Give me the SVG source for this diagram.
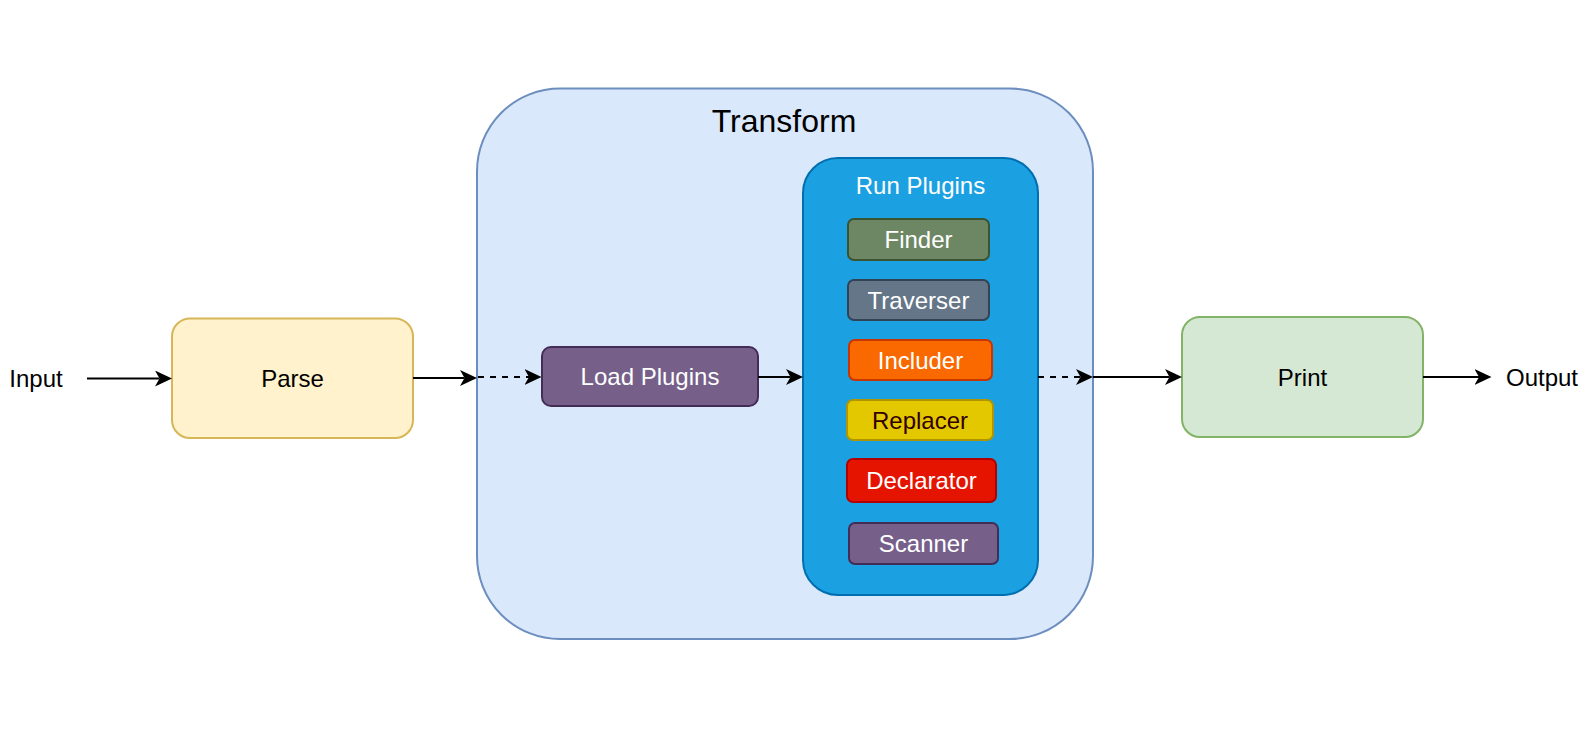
<svg xmlns="http://www.w3.org/2000/svg" width="1588" height="732" viewBox="0 0 1588 732">
<style>
  text { font-family: "Liberation Sans", Arial, Helvetica, sans-serif; font-size: 24px; text-anchor: middle; }
  .w { fill: #ffffff; }
  .k { fill: #000000; }
  .box { stroke-width: 2; }
  .edge { fill: none; stroke: #000000; stroke-width: 2; }
  .dash { stroke-dasharray: 6 6; }
</style>
<defs>
  <marker id="arr" viewBox="0 0 17 16" markerWidth="17" markerHeight="16" markerUnits="userSpaceOnUse" refX="4.5" refY="8" orient="auto">
    <path d="M0,0 L17,8 L0,16 L4.5,8 Z" fill="#000000"/>
  </marker>
</defs>
<rect width="1588" height="732" fill="#ffffff"/>

<g id="transform">
  <rect class="box" x="477" y="88.5" width="616" height="550.5" rx="83" ry="83" fill="#dae8fc" stroke="#6c8ebf"/>
  <text class="k" x="784" y="132" style="font-size:32px">Transform</text>
</g>

<g id="input">
  <text class="k" x="36" y="387">Input</text>
</g>

<g id="parse">
  <rect class="box" x="172" y="318.5" width="241" height="119.5" rx="18" ry="18" fill="#fff2cc" stroke="#d6b656"/>
  <text class="k" x="292.5" y="386.5">Parse</text>
</g>

<g id="load-plugins">
  <rect class="box" x="542" y="347" width="216" height="59" rx="9" ry="9" fill="#76608a" stroke="#432d57"/>
  <text class="w" x="650" y="385">Load Plugins</text>
</g>

<g id="run-plugins">
  <rect class="box" x="803" y="158" width="235" height="437" rx="35" ry="35" fill="#1ba1e2" stroke="#006eaf"/>
  <text class="w" x="920.5" y="193.5">Run Plugins</text>
</g>

<g id="finder">
  <rect class="box" x="848" y="219" width="141" height="41" rx="6" ry="6" fill="#6d8764" stroke="#3a5431"/>
  <text class="w" x="918.5" y="248">Finder</text>
</g>

<g id="traverser">
  <rect class="box" x="848" y="280" width="141" height="40" rx="6" ry="6" fill="#647687" stroke="#314354"/>
  <text class="w" x="918.5" y="308.5">Traverser</text>
</g>

<g id="includer">
  <rect class="box" x="849" y="340" width="143" height="40" rx="6" ry="6" fill="#fa6800" stroke="#c73500"/>
  <text class="w" x="920.5" y="368.5">Includer</text>
</g>

<g id="replacer">
  <rect class="box" x="847" y="400" width="146" height="40" rx="6" ry="6" fill="#e3c800" stroke="#b09500"/>
  <text x="920" y="428.5" fill="#330000">Replacer</text>
</g>

<g id="declarator">
  <rect class="box" x="847" y="459" width="149" height="43" rx="6" ry="6" fill="#e51400" stroke="#b20000"/>
  <text class="w" x="921.5" y="489">Declarator</text>
</g>

<g id="scanner">
  <rect class="box" x="849" y="523" width="149" height="41" rx="6" ry="6" fill="#76608a" stroke="#432d57"/>
  <text class="w" x="923.5" y="552">Scanner</text>
</g>

<g id="print">
  <rect class="box" x="1182" y="317" width="241" height="120" rx="18" ry="18" fill="#d5e8d4" stroke="#82b366"/>
  <text class="k" x="1302.5" y="385.5">Print</text>
</g>

<g id="output">
  <text class="k" x="1542" y="386">Output</text>
</g>

<g id="connectors">
  <path class="edge" d="M87,378.5 L159.5,378.5" marker-end="url(#arr)"/>
  <path class="edge" d="M413,378 L464.5,378" marker-end="url(#arr)"/>
  <path class="edge dash" d="M478,377 L529,377" marker-end="url(#arr)"/>
  <path class="edge" d="M758,377 L790.5,377" marker-end="url(#arr)"/>
  <path class="edge dash" d="M1038,377 L1080.5,377" marker-end="url(#arr)"/>
  <path class="edge" d="M1093,377 L1169.5,377" marker-end="url(#arr)"/>
  <path class="edge" d="M1423,377 L1479,377" marker-end="url(#arr)"/>
</g>
</svg>
